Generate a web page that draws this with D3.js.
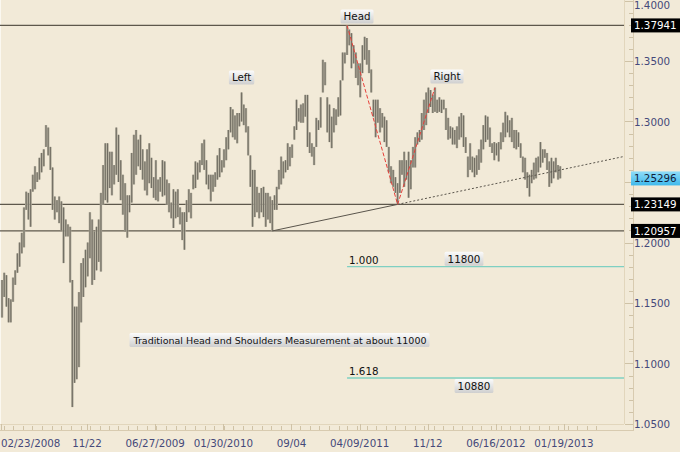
<!DOCTYPE html>
<html><head><meta charset="utf-8">
<script src="https://cdn.jsdelivr.net/npm/d3@7"></script>
<style>html,body{margin:0;padding:0;background:#f2ead8;}svg{display:block}</style>
</head><body><svg id="c" width="680" height="452"></svg>
<script>
// ---- data (weekly bars) ----
const firstWeek = "2008-02-25";
const highs = [
1.169,1.175,1.173,1.154,1.153,1.171,1.177,1.191,1.200,1.208,
1.229,1.242,1.241,1.244,1.256,1.263,1.258,1.270,1.274,1.277,
1.297,1.295,1.279,1.262,1.238,1.235,1.238,1.234,1.229,1.219,
1.215,1.213,1.169,1.147,1.147,1.159,1.183,1.187,1.194,1.200,
1.225,1.219,1.209,1.213,1.219,1.241,1.264,1.282,1.282,1.275,
1.275,1.264,1.295,1.289,1.268,1.256,1.249,1.239,1.239,1.274,
1.289,1.293,1.285,1.289,1.277,1.267,1.277,1.282,1.270,1.254,
1.268,1.252,1.254,1.268,1.267,1.252,1.249,1.233,1.244,1.242,
1.244,1.229,1.225,1.225,1.235,1.244,1.241,1.256,1.267,1.266,
1.268,1.282,1.285,1.268,1.256,1.256,1.256,1.258,1.272,1.278,
1.268,1.277,1.287,1.293,1.312,1.310,1.305,1.307,1.307,1.324,
1.314,1.311,1.296,1.272,1.260,1.260,1.246,1.241,1.245,1.246,
1.241,1.241,1.238,1.235,1.239,1.246,1.260,1.271,1.267,1.268,
1.282,1.279,1.281,1.296,1.318,1.311,1.314,1.315,1.322,1.322,
1.291,1.282,1.279,1.303,1.301,1.320,1.351,1.349,1.320,1.314,
1.304,1.311,1.310,1.320,1.334,1.357,1.357,1.37941,1.376,1.373,
1.363,1.357,1.348,1.348,1.363,1.370,1.369,1.359,1.343,1.318,
1.318,1.318,1.311,1.307,1.304,1.301,1.279,1.263,1.260,1.254,
1.249,1.268,1.268,1.275,1.268,1.275,1.268,1.279,1.287,1.291,
1.293,1.307,1.318,1.324,1.328,1.326,1.322,1.328,1.318,1.320,
1.318,1.318,1.311,1.303,1.296,1.295,1.293,1.296,1.304,1.307,
1.305,1.287,1.271,1.282,1.271,1.270,1.272,1.277,1.285,1.297,
1.305,1.304,1.295,1.282,1.283,1.282,1.283,1.291,1.299,1.308,
1.305,1.301,1.303,1.293,1.293,1.291,1.282,1.271,1.270,1.258,
1.256,1.260,1.266,1.270,1.271,1.283,1.277,1.277,1.274,1.267,
1.270,1.267,1.270,1.264,1.263];
const lows = [
1.138,1.155,1.147,1.134,1.134,1.151,1.165,1.175,1.180,1.191,
1.196,1.227,1.219,1.213,1.242,1.244,1.250,1.252,1.258,1.263,
1.279,1.272,1.260,1.227,1.219,1.225,1.216,1.210,1.183,1.205,
1.205,1.167,1.064,1.084,1.087,1.097,1.134,1.155,1.163,1.172,
1.187,1.165,1.169,1.177,1.184,1.176,1.231,1.235,1.233,1.245,
1.239,1.248,1.256,1.250,1.235,1.223,1.209,1.204,1.225,1.233,
1.248,1.256,1.263,1.260,1.252,1.243,1.239,1.249,1.245,1.237,
1.235,1.234,1.242,1.238,1.239,1.231,1.225,1.220,1.212,1.220,
1.221,1.215,1.202,1.194,1.217,1.225,1.220,1.244,1.245,1.252,
1.258,1.264,1.260,1.248,1.244,1.234,1.242,1.246,1.252,1.254,
1.258,1.262,1.268,1.277,1.291,1.287,1.285,1.282,1.296,1.300,
1.297,1.291,1.272,1.246,1.213,1.221,1.225,1.220,1.225,1.221,
1.213,1.219,1.216,1.20957,1.227,1.227,1.244,1.248,1.253,1.258,
1.260,1.263,1.270,1.285,1.293,1.300,1.299,1.299,1.304,1.279,
1.274,1.271,1.264,1.279,1.293,1.295,1.324,1.330,1.291,1.283,
1.278,1.291,1.297,1.304,1.305,1.334,1.348,1.355,1.363,1.344,
1.348,1.336,1.330,1.320,1.340,1.351,1.347,1.340,1.324,1.304,
1.287,1.299,1.291,1.295,1.283,1.279,1.258,1.249,1.246,1.241,
1.23149,1.241,1.256,1.246,1.252,1.237,1.244,1.262,1.262,1.281,
1.283,1.285,1.293,1.297,1.307,1.312,1.307,1.308,1.307,1.308,
1.307,1.310,1.293,1.285,1.286,1.281,1.281,1.278,1.285,1.287,
1.279,1.274,1.254,1.260,1.258,1.254,1.256,1.260,1.266,1.277,
1.283,1.285,1.279,1.274,1.268,1.272,1.267,1.277,1.283,1.287,
1.291,1.287,1.283,1.278,1.277,1.279,1.270,1.258,1.252,1.245,
1.238,1.249,1.252,1.253,1.258,1.262,1.266,1.270,1.260,1.246,
1.249,1.253,1.258,1.252,1.253];
const yTickValues = [1.05,1.10,1.15,1.20,1.30,1.35,1.40];   // 1.2500 is hidden under the last-price tag
const yMajorTicks = [1.05,1.10,1.15,1.20,1.25,1.30,1.35,1.40];
const xTickDates = ["2008-02-23","2008-11-22","2009-06-27","2010-01-30","2010-09-04","2011-04-09","2011-11-12","2012-06-16","2013-01-19"];
const xTickLabels = ["02/23/2008","11/22","06/27/2009","01/30/2010","09/04","04/09/2011","11/12","06/16/2012","01/19/2013"];
const levelLines = [1.37941, 1.23149, 1.20957];
const lastClose = 1.25296;
const fibLevels = [1.18, 1.088];
const fibRatios = ["1.000", "1.618"];
const fibTargets = ["11800", "10880"];
const necklineBars = [123, 180];
const headBar = 157, rightShoulderBar = 197;
const shoulderNames = ["Left", "Head", "Right"];
const shoulderBars = [109, 157, 197];
const note = "Traditional Head and Shoulders Measurement at about 11000";

// ---- layout ----
const W = 680, H = 452, plotR = 624, plotB = 424;
const parse = d3.utcParse("%Y-%m-%d");
const toLocal = d => new Date(d.getUTCFullYear(), d.getUTCMonth(), d.getUTCDate());
const d0 = toLocal(parse(firstWeek));
const dates = highs.map((_, i) => d3.timeWeek.offset(d0, i));
const x = d3.scaleTime().domain([toLocal(parse("2008-02-23")), toLocal(parse("2013-01-19"))]).range([1.4, 564]);
const y = d3.scaleLinear().domain([1.05, 1.40]).range([424, 0.5]);

const svg = d3.select("#c");
const defs = svg.append("defs");
const g1 = defs.append("linearGradient").attr("id","tag").attr("x1",0).attr("y1",0).attr("x2",0).attr("y2",1);
g1.append("stop").attr("offset","0%").attr("stop-color","#fbfbfb");
g1.append("stop").attr("offset","100%").attr("stop-color","#cfcfcf");
const g2 = defs.append("linearGradient").attr("id","blue").attr("x1",0).attr("y1",0).attr("x2",0).attr("y2",1);
g2.append("stop").attr("offset","0%").attr("stop-color","#8fdcf8");
g2.append("stop").attr("offset","100%").attr("stop-color","#3fb9ec");
defs.append("clipPath").attr("id","plot").append("rect").attr("x",0).attr("y",0).attr("width",plotR).attr("height",plotB);

svg.append("rect").attr("width",W).attr("height",H).attr("fill","#f2ead8");

// borders / axis lines
svg.append("line").attr("x1",0.5).attr("x2",0.5).attr("y1",0).attr("y2",plotB).attr("stroke","#fbf8f0");
svg.append("line").attr("x1",plotR+0.5).attr("x2",plotR+0.5).attr("y1",0).attr("y2",plotB).attr("stroke","#e2d6bc");
svg.append("line").attr("x1",0).attr("x2",plotR).attr("y1",plotB+0.5).attr("y2",plotB+0.5).attr("stroke","#e2d6bc");
svg.append("line").attr("x1",633.5).attr("x2",633.5).attr("y1",0).attr("y2",431).attr("stroke","#d8cbb0");
svg.append("line").attr("x1",0).attr("x2",633.5).attr("y1",430.5).attr("y2",430.5).attr("stroke","#d8cbb0");

const font = "DejaVu Sans, Verdana, sans-serif";
const axisCol = "#45497a";

// y axis ticks
const yMinor = d3.range(105, 141).map(v => v / 100);
svg.append("g").selectAll("line").data(yMinor).join("line")
  .attr("x1", v => yMajorTicks.some(t => Math.abs(t - v) < 1e-9) ? 625 : 629).attr("x2", 633)
  .attr("y1", v => Math.round(y(v)) + 0.5).attr("y2", v => Math.round(y(v)) + 0.5)
  .attr("stroke", "#cfc2a6");
svg.append("g").selectAll("text").data(yTickValues).join("text")
  .attr("x", 634).attr("y", v => Math.max(y(v) + 4, 8.5)).attr("fill", axisCol)
  .attr("font-family", font).attr("font-size", 10.3).text(v => v.toFixed(4));

// x axis ticks
const xMajor = xTickDates.map(d => toLocal(parse(d)));
const xMinor = d3.timeMonth.range(new Date(2008,1,1), new Date(2013,5,1));
svg.append("g").selectAll("line").data(xMinor).join("line")
  .attr("x1", d => Math.round(x(d)) + 0.5).attr("x2", d => Math.round(x(d)) + 0.5)
  .attr("y1", 426).attr("y2", 430).attr("stroke", "#cfc2a6");
svg.append("g").selectAll("line").data(xMajor).join("line")
  .attr("x1", d => Math.round(x(d)) + 0.5).attr("x2", d => Math.round(x(d)) + 0.5)
  .attr("y1", 424).attr("y2", 430).attr("stroke", "#cfc2a6");
svg.append("g").selectAll("text").data(xMajor).join("text")
  .attr("x", (d, i) => i === 0 ? 1 : x(d)).attr("y", 447)
  .attr("text-anchor", (d, i) => i === 0 ? "start" : "middle")
  .attr("fill", axisCol).attr("font-family", font).attr("font-size", 10.3)
  .text((d, i) => xTickLabels[i]);

const plot = svg.append("g").attr("clip-path", "url(#plot)");

// horizontal level lines
plot.selectAll("line.lvl").data(levelLines).join("line").attr("class","lvl")
  .attr("x1", 0).attr("x2", plotR).attr("y1", v => y(v)).attr("y2", v => y(v))
  .attr("stroke", "#5e584c").attr("stroke-width", 1.4);

// fib lines
const headX = x(dates[headBar]);
plot.selectAll("line.fib").data(fibLevels).join("line").attr("class","fib")
  .attr("x1", headX).attr("x2", plotR).attr("y1", v => y(v)).attr("y2", v => y(v))
  .attr("stroke", "#7fd0c2").attr("stroke-width", 1.3);

// bars: light body + dark core
const bars = plot.append("g");
bars.selectAll("line.b").data(highs).join("line").attr("class","b")
  .attr("x1", (d, i) => x(dates[i])).attr("x2", (d, i) => x(dates[i]))
  .attr("y1", d => y(d)).attr("y2", (d, i) => y(lows[i]))
  .attr("stroke", "#aea999").attr("stroke-width", 2.4);
bars.selectAll("line.c").data(highs).join("line").attr("class","c")
  .attr("x1", (d, i) => x(dates[i])).attr("x2", (d, i) => x(dates[i]))
  .attr("y1", d => y(d)).attr("y2", (d, i) => y(lows[i]))
  .attr("stroke", "#6a665c").attr("stroke-width", 0.9);

// neckline
const nA = [x(dates[necklineBars[0]]), y(lows[necklineBars[0]])];
const nB = [x(dates[necklineBars[1]]), y(lows[necklineBars[1]])];
const slope = (nB[1] - nA[1]) / (nB[0] - nA[0]);
plot.append("line").attr("x1", nA[0]).attr("y1", nA[1]).attr("x2", nB[0]).attr("y2", nB[1])
  .attr("stroke", "#5a554c").attr("stroke-width", 1);
plot.append("line").attr("x1", nB[0]).attr("y1", nB[1]).attr("x2", plotR).attr("y2", nB[1] + slope * (plotR - nB[0]))
  .attr("stroke", "#5a554c").attr("stroke-width", 1).attr("stroke-dasharray", "2,2");

// red dashed head lines
const hp = [[x(dates[headBar]), y(highs[headBar])], nB, [x(dates[rightShoulderBar]), y(highs[rightShoulderBar])]];
plot.append("path").attr("d", d3.line()(hp)).attr("fill", "none")
  .attr("stroke", "#e8403a").attr("stroke-width", 1).attr("stroke-dasharray", "4,2");

// tag helper
function tag(cx, cy, text, size) {
  const g = svg.append("g");
  const t = g.append("text").attr("font-family", font).attr("font-size", size || 10.3).attr("fill", "#111")
    .attr("text-anchor", "middle").attr("x", cx).attr("y", cy + 3.8).text(text);
  const bb = t.node().getBBox();
  g.insert("rect", "text").attr("x", bb.x - 3).attr("y", cy - 7).attr("width", bb.width + 6).attr("height", 14)
    .attr("rx", 1.5).attr("fill", "url(#tag)");
}
const labelOffsets = [[0, -15], [10, -9], [12, -11]];
shoulderBars.forEach((b, i) => {
  tag(x(dates[b]) + labelOffsets[i][0], y(highs[b]) + labelOffsets[i][1], shoulderNames[i]);
});
tag(280, 340, note, 9.5);

fibLevels.forEach((v, i) => {
  svg.append("text").attr("x", headX + 2).attr("y", y(v) - 3).attr("font-family", font)
    .attr("font-size", 10.3).attr("fill", "#111").text(fibRatios[i]);
});
tag(464, y(fibLevels[0]) - 8, fibTargets[0]);
tag(474, y(fibLevels[1]) + 8, fibTargets[1]);

function priceTag(v, bg, fg) {
  const cy = y(v);
  svg.append("rect").attr("x", 631).attr("y", cy - 7).attr("width", 49).attr("height", 14).attr("fill", bg);
  svg.append("text").attr("x", 634).attr("y", cy + 4).attr("font-family", font).attr("font-size", 10.3)
    .attr("fill", fg).text(v.toFixed(5));
}
levelLines.forEach(v => priceTag(v, "#000", "#fff"));
priceTag(lastClose, "url(#blue)", "#10203a");
</script></body></html>
